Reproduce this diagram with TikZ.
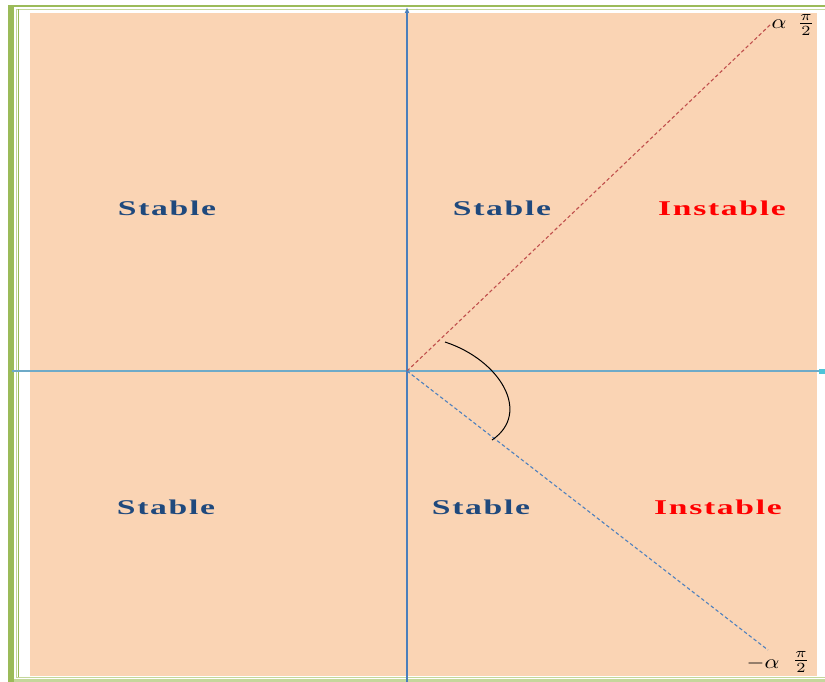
\documentclass[tikz,border=0pt]{standalone}
\usepackage{fontspec}
\setmainfont{Liberation Serif}
\newfontfamily\lblfont[LetterSpace=5]{Liberation Serif}
\usetikzlibrary{arrows.meta}
\definecolor{peach}{RGB}{250,212,180}
\definecolor{framegreen}{RGB}{155,187,89}
\definecolor{lightgreen}{RGB}{196,215,155}
\definecolor{axisblue}{RGB}{74,126,187}
\definecolor{hblue}{RGB}{110,170,200}
\definecolor{dashred}{RGB}{192,80,77}
\definecolor{dashblue}{RGB}{79,129,189}
\definecolor{txtblue}{RGB}{31,73,125}
\newcommand{\widetxt}[1]{\scalebox{1.6}[1]{\lblfont\bfseries #1}}
\newcommand{\widemath}[1]{\scalebox{2.3}[2.0]{#1}}
\tikzset{
  stablelbl/.style={text=txtblue, font=\fontsize{21}{23}\selectfont, inner sep=0pt},
  instablelbl/.style={text=red, font=\fontsize{21}{23}\selectfont, inner sep=0pt},
  mathlbl/.style={inner sep=0pt},
  raydash/.style={line width=1.1pt, dash pattern=on 3.5pt off 2.5pt}
}
\begin{document}
\begin{tikzpicture}[x=1pt,y=-1pt]
\useasboundingbox (0,0) rectangle (825,682);
% frame
\fill[framegreen] (8,5) rectangle (14,682);
\fill[framegreen] (8,5) rectangle (825,7.5);
\draw[lightgreen, line width=1pt] (16,9.5) -- (825,9.5);
\draw[lightgreen, line width=1pt] (16,9) -- (16,678);
\draw[framegreen, line width=0.8pt] (18,9) -- (18,677);
\draw[lightgreen, line width=1pt] (16,677.5) -- (825,677.5);
\fill[lightgreen] (14,679) rectangle (825,682);
% background
\fill[peach] (30,13) rectangle (817,676);
% axes
\coordinate (O) at (407,371);
\coordinate (xl) at (12,371);
\coordinate (xr) at (821,371);
\coordinate (yb) at (407,682);
\coordinate (yt) at (407,7);
\draw[hblue, line width=1.3pt] (xl) -- (xr);
\fill[hblue!70!cyan] (819,368.5) rectangle (825,374);
\draw[axisblue, line width=1.8pt, -{Latex[length=6pt,width=5pt]}] (yb) -- (yt);
% rays
\coordinate (A) at (770,25);
\coordinate (B) at (768,650);
\draw[dashred, raydash] (O) -- (A);
\draw[dashblue, raydash] (O) -- (B);
% arc
\coordinate (arcS) at (445,342);
\coordinate (arcE) at (492,440);
\draw[black, line width=1pt] (arcS) .. controls (500,360) and (532,413) .. (arcE);
% math labels
\node[mathlbl] (la) at (779,24) {\widemath{$\alpha$}};
\node[mathlbl] (fa) at (806,25) {\widemath{$\frac{\pi}{2}$}};
\node[mathlbl] (lb) at (763,663) {\widemath{$-\alpha$}};
\node[mathlbl] (fb) at (801,662) {\widemath{$\frac{\pi}{2}$}};
% region labels
\node[stablelbl] (s1) at (167,208) {\widetxt{Stable}};
\node[stablelbl] (s2) at (502,208) {\widetxt{Stable}};
\node[instablelbl] (i1) at (722,208) {\widetxt{Instable}};
\node[stablelbl] (s3) at (166,507) {\widetxt{Stable}};
\node[stablelbl] (s4) at (481,507) {\widetxt{Stable}};
\node[instablelbl] (i2) at (718,507) {\widetxt{Instable}};
\end{tikzpicture}
\end{document}
